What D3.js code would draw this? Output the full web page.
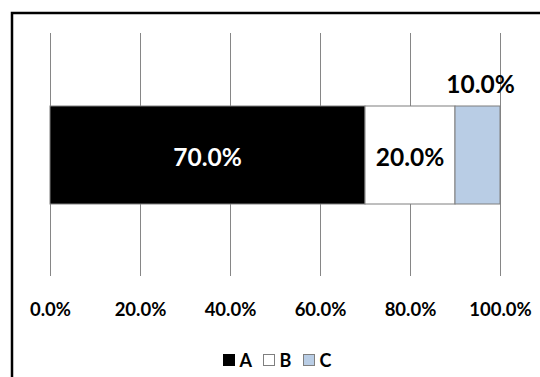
<!DOCTYPE html>
<html><head><meta charset="utf-8">
<script src="https://cdn.jsdelivr.net/npm/d3@7"></script>
<style>body{margin:0;background:#fff}svg{display:block}text{font-family:Lato,"Open Sans",sans-serif;font-weight:bold}</style>
</head><body>
<script>
const series = ["A","B","C"];
const values = [0.70, 0.20, 0.10];
const colors = ["#000000","#FFFFFF","#B9CDE5"];
const labelColors = ["#FFFFFF","#000000","#000000"];
const ticks = [0,0.2,0.4,0.6,0.8,1.0];

const W=540,H=377;
const svg=d3.select("body").append("svg").attr("width",W).attr("height",H);
// outer frame
svg.append("rect").attr("x",12).attr("y",13).attr("width",560).attr("height",400)
  .attr("fill","none").attr("stroke","#000").attr("stroke-width",2.5);

const x=d3.scaleLinear().domain([0,1]).range([50,500]);
const gridTop=33, gridBottom=276, barTop=106, barBottom=204;

svg.append("g").selectAll("line").data(ticks).join("line")
  .attr("x1",d=>x(d)+0.5).attr("x2",d=>x(d)+0.5).attr("y1",gridTop).attr("y2",gridBottom)
  .attr("stroke","#868686").attr("stroke-width",1);

const axis=d3.axisBottom(x).tickValues(ticks).tickFormat(d3.format(".1%")).tickSize(0);
const ag=svg.append("g").attr("transform",`translate(0,${gridBottom})`).call(axis);
ag.select(".domain").remove();
ag.selectAll("text").attr("dy",0).attr("y",40).attr("font-size",18.5).attr("fill","#000")
  .style("font-family","Lato, sans-serif").style("font-weight","bold");

let cum=0;
const segs=values.map((v,i)=>{const s={k:series[i],v,x0:cum,x1:cum+v,i};cum+=v;return s;});
svg.append("g").selectAll("rect").data(segs).join("rect")
  .attr("x",d=>x(d.x0)).attr("width",d=>x(d.x1)-x(d.x0))
  .attr("y",barTop).attr("height",barBottom-barTop)
  .attr("fill",d=>colors[d.i]).attr("stroke","#7F7F7F").attr("stroke-width",1);

const fmt=d3.format(".1%");
svg.append("g").selectAll("text").data(segs).join("text")
  .attr("x",d=>d.i===2?x(d.x0+d.v/2)+3:x((d.x0+d.x1)/2))
  .attr("y",d=>d.i===2?93:166)
  .attr("text-anchor","middle").attr("font-size",24.5)
  .attr("fill",d=>labelColors[d.i]).text(d=>fmt(d.v));

// legend
const lx=[223,263,303];
const lg=svg.append("g");
series.forEach((s,i)=>{
  lg.append("rect").attr("x",lx[i]+0.5).attr("y",354.5).attr("width",11).attr("height",11)
    .attr("fill",colors[i]).attr("stroke",i===0?"#000":"#7F7F7F").attr("stroke-width",1);
  lg.append("text").attr("x",lx[i]+16.5).attr("y",366.5).attr("font-size",18).attr("fill","#000").text(s);
});
</script>
</body></html>
